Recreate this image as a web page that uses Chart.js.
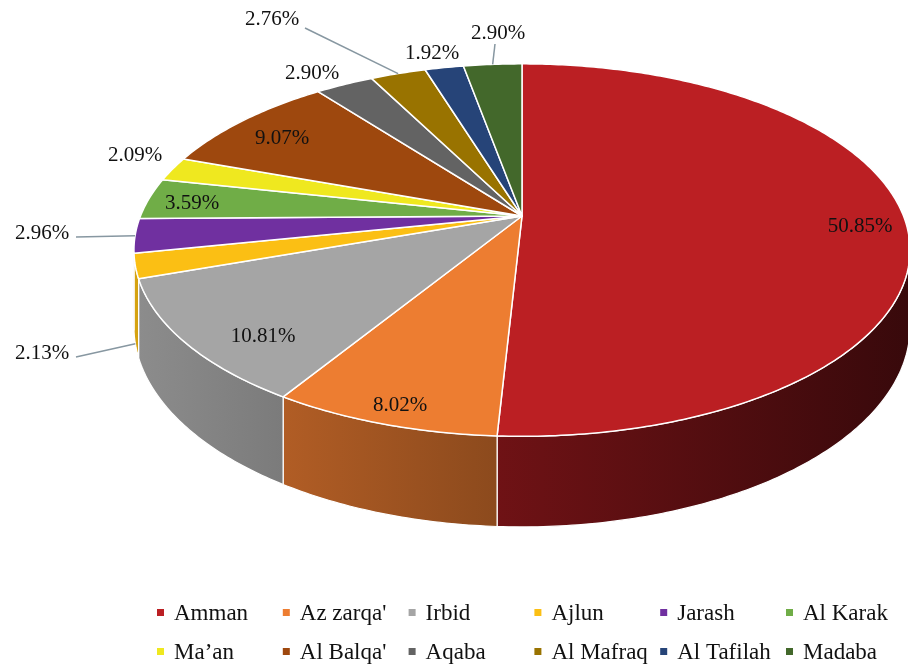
<!DOCTYPE html>
<html>
<head>
<meta charset="utf-8">
<script src="https://cdn.jsdelivr.net/npm/chart.js@4.4.1/dist/chart.umd.min.js"></script>
<style>
	html, body { margin: 0; padding: 0; background: #fff; }
	#wrap { width: 908px; height: 667px; }
</style>
</head>
<body>
<div id="wrap"><canvas id="pieChart" width="908" height="667"></canvas></div>
<script>
// 지역 이름과 비율(%)
const governorates = ['Amman', "Az zarqa'", 'Irbid', 'Ajlun', 'Jarash', 'Al Karak', 'Ma\u2019an', "Al Balqa'", 'Aqaba', 'Al Mafraq', 'Al Tafilah', 'Madaba'];
const shares = [50.85, 8.02, 10.81, 2.13, 2.96, 3.59, 2.09, 9.07, 2.90, 2.76, 1.92, 2.90];
const sliceColors = ['#bb1f23', '#ed7d31', '#a5a5a5', '#fbbf14', '#7030a0', '#70ad47', '#efe81f', '#9e480e', '#636363', '#997300', '#264478', '#43682b'];

// 3D 원근 설정 (화면 배치용)
const view = { cx: 522, cy: 216, rx: 381.5, ry: 180, persp: 0.183, depth: 74 };
// 라벨 위치 (텍스트 중심, 지시선 시작점)
const labelSpots = [
	{ x: 860, y: 226 }, { x: 400, y: 405 }, { x: 263, y: 336 },
	{ x: 42, y: 353, line: [76, 357], drop: 1 }, { x: 42, y: 233, line: [76, 237] },
	{ x: 192, y: 203 }, { x: 135, y: 155 }, { x: 282, y: 138 }, { x: 312, y: 73 },
	{ x: 272, y: 19, line: [305, 28] }, { x: 432, y: 53 }, { x: 498, y: 33, line: [495, 44] }
];
const serif = "'Liberation Serif', 'Times New Roman', serif";

function shade(hex, f) {
	const n = parseInt(hex.slice(1), 16);
	const r = Math.round(((n >> 16) & 255) * f);
	const g = Math.round(((n >> 8) & 255) * f);
	const b = Math.round((n & 255) * f);
	return 'rgb(' + r + ',' + g + ',' + b + ')';
}
// 원 위의 각도를 화면 좌표로 투영
function proj(t, r) {
	if (r === undefined) r = 1;
	const sn = Math.sin(t) * r, cs = Math.cos(t) * r;
	const s = 1 / (1 - view.persp * sn);
	return { x: view.cx + view.rx * cs * s, y: view.cy + view.ry * sn * s, d: view.depth * s };
}
function wallShade(x) {
	return Math.max(0.3, 0.95 - x * 0.00072);
}

const pie3d = {
	id: 'pie3d',
	beforeDatasetsDraw(chart) {
		const ctx = chart.ctx;
		const arcs = chart.getDatasetMeta(0).data;
		const colors = chart.data.datasets[0].backgroundColor;
		// 보이는 옆면 범위 (좌우 끝점 사이)
		const edge = Math.asin(view.persp);
		ctx.save();
		ctx.lineJoin = 'round';
		// 옆면
		arcs.forEach((arc, i) => {
			const lo = Math.max(arc.startAngle, edge), hi = Math.min(arc.endAngle, Math.PI - edge);
			if (hi <= lo) return;
			const n = Math.max(4, Math.ceil((hi - lo) * 80));
			const top = [];
			for (let k = 0; k <= n; k++) top.push(proj(lo + (hi - lo) * k / n));
			ctx.beginPath();
			top.forEach((p, k) => k ? ctx.lineTo(p.x, p.y) : ctx.moveTo(p.x, p.y));
			for (let k = n; k >= 0; k--) ctx.lineTo(top[k].x, top[k].y + top[k].d);
			ctx.closePath();
			const xs = top.map(p => p.x);
			const x0 = Math.min(...xs), x1 = Math.max(...xs);
			const grad = ctx.createLinearGradient(x0, 0, x1 + 0.01, 0);
			grad.addColorStop(0, shade(colors[i], wallShade(x0)));
			grad.addColorStop(1, shade(colors[i], wallShade(x1)));
			ctx.fillStyle = grad;
			ctx.fill();
			ctx.strokeStyle = '#ffffff';
			ctx.lineWidth = 1.2;
			ctx.stroke();
		});
		// 윗면
		arcs.forEach((arc, i) => {
			const a0 = arc.startAngle, a1 = arc.endAngle;
			const n = Math.max(4, Math.ceil((a1 - a0) * 80));
			ctx.beginPath();
			ctx.moveTo(view.cx, view.cy);
			for (let k = 0; k <= n; k++) {
				const p = proj(a0 + (a1 - a0) * k / n);
				ctx.lineTo(p.x, p.y);
			}
			ctx.closePath();
			ctx.fillStyle = colors[i];
			ctx.fill();
			ctx.strokeStyle = '#ffffff';
			ctx.lineWidth = 1.5;
			ctx.stroke();
		});
		ctx.restore();
		return false;
	},
	afterDraw(chart) {
		const ctx = chart.ctx;
		const arcs = chart.getDatasetMeta(0).data;
		const values = chart.data.datasets[0].data;
		ctx.save();
		// 지시선
		ctx.strokeStyle = '#8797a1';
		ctx.lineWidth = 1.5;
		labelSpots.forEach((spot, i) => {
			if (!spot.line) return;
			const arc = arcs[i];
			const p = proj((arc.startAngle + arc.endAngle) / 2);
			const endY = p.y + (spot.drop ? p.d * spot.drop : 0);
			ctx.beginPath();
			ctx.moveTo(spot.line[0], spot.line[1]);
			ctx.lineTo(p.x, endY);
			ctx.stroke();
		});
		// 퍼센트 라벨
		ctx.fillStyle = '#111111';
		ctx.font = '21px ' + serif;
		ctx.textAlign = 'center';
		ctx.textBaseline = 'middle';
		values.forEach((v, i) => {
			ctx.fillText(v.toFixed(2) + '%', labelSpots[i].x, labelSpots[i].y);
		});
		// 범례 (6열 x 2행)
		ctx.font = '23px ' + serif;
		ctx.textAlign = 'left';
		chart.data.labels.forEach((name, i) => {
			const col = i % 6, row = Math.floor(i / 6);
			const x = 157 + col * 125.8;
			const y = 613 + row * 39;
			ctx.fillStyle = chart.data.datasets[0].backgroundColor[i];
			ctx.fillRect(x, y - 4, 7, 7);
			ctx.fillStyle = '#111111';
			ctx.fillText(name, x + 17, y + 1);
		});
		ctx.restore();
	}
};

const pie_ctx = document.getElementById('pieChart').getContext('2d');
const pieChart = new Chart(pie_ctx, {
	type: 'pie',
	data: {
		labels: governorates,
		datasets: [{
			data: shares,
			backgroundColor: sliceColors,
			borderColor: '#ffffff',
			borderWidth: 1.5
		}]
	},
	options: {
		responsive: false,
		animation: false,
		events: [],
		plugins: {
			legend: { display: false },
			tooltip: { enabled: false }
		}
	},
	plugins: [pie3d]
});
</script>
</body>
</html>
